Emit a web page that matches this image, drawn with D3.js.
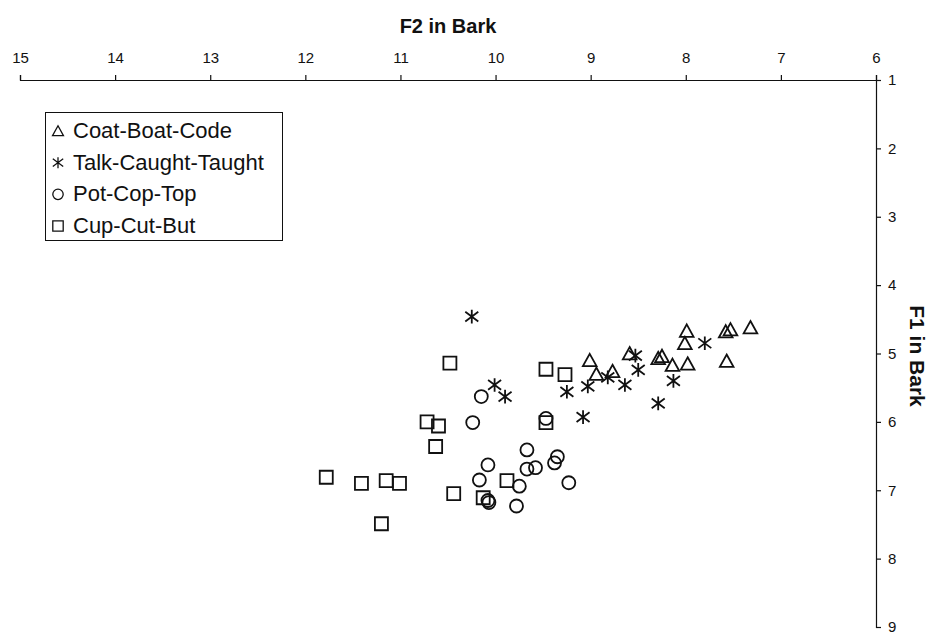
<!DOCTYPE html>
<html>
<head>
<meta charset="utf-8">
<script src="https://cdn.jsdelivr.net/npm/d3@7"></script>
<style>
  html, body { margin: 0; padding: 0; background: #fff; }
  svg { display: block; font-family: Arial, "Liberation Sans", sans-serif; }
</style>
</head>
<body>
<svg id="chart" width="930" height="641"></svg>
<script>
// Vowel formants in Bark: F2 on the (reversed) horizontal axis, F1 on the vertical axis.
const xTickValues = [15, 14, 13, 12, 11, 10, 9, 8, 7, 6];
const yTickValues = [1, 2, 3, 4, 5, 6, 7, 8, 9];

const seriesNames = ["Coat-Boat-Code", "Talk-Caught-Taught", "Pot-Cop-Top", "Cup-Cut-But"];

// Coat-Boat-Code
const coatF2 = [9.01, 8.94, 8.77, 8.59, 8.29, 8.25, 8.14, 7.98, 7.99, 8.01, 7.58, 7.53, 7.32, 7.57];
const coatF1 = [5.10, 5.30, 5.26, 5.00, 5.07, 5.04, 5.17, 5.15, 4.67, 4.85, 4.68, 4.65, 4.62, 5.11];

// Talk-Caught-Taught
const talkF2 = [10.25, 10.01, 9.90, 9.25, 9.03, 8.82, 8.64, 8.53, 8.50, 8.13, 8.29, 7.80, 9.08];
const talkF1 = [4.46, 5.46, 5.63, 5.56, 5.48, 5.35, 5.46, 5.03, 5.24, 5.40, 5.73, 4.85, 5.93];

// Pot-Cop-Top
const potF2 = [10.15, 10.24, 9.47, 9.67, 9.35, 9.38, 10.08, 9.67, 9.58, 10.17, 9.75, 9.23, 10.07, 10.08, 9.78];
const potF1 = [5.63, 6.01, 5.95, 6.41, 6.51, 6.60, 6.63, 6.69, 6.67, 6.85, 6.94, 6.89, 7.18, 7.15, 7.23];

// Cup-Cut-But
const cupF2 = [10.48, 9.47, 9.27, 10.72, 10.60, 10.63, 9.47, 11.78, 11.41, 11.15, 11.01, 11.20, 10.44, 9.88, 10.13];
const cupF1 = [5.14, 5.23, 5.31, 6.00, 6.06, 6.36, 6.01, 6.81, 6.90, 6.86, 6.90, 7.49, 7.05, 6.86, 7.11];

const svg = d3.select("#chart");
const ink = "#111";

const x = d3.scaleLinear().domain([15, 6]).range([20, 876]);
const y = d3.scaleLinear().domain([1, 9]).range([80, 627]);

// Marker outlines, centred on (0,0), scaled by half-size r
const shapes = {
  triangle: r => `M0,${-r}L${r * 1.05},${r * 0.9}L${-r * 1.05},${r * 0.9}Z`,
  star: r => `M0,${-r * 1.05}L0,${r * 1.05}M${-r},${-r * 0.75}L${r},${r * 0.75}M${-r},${r * 0.75}L${r},${-r * 0.75}`,
  circle: r => `M${r},0A${r},${r} 0 1,1 ${-r},0A${r},${r} 0 1,1 ${r},0Z`,
  square: r => `M${-r},${-r}H${r}V${r}H${-r}Z`
};

const series = [
  { name: seriesNames[0], shape: "triangle", f2: coatF2, f1: coatF1 },
  { name: seriesNames[1], shape: "star", f2: talkF2, f1: talkF1 },
  { name: seriesNames[2], shape: "circle", f2: potF2, f1: potF1 },
  { name: seriesNames[3], shape: "square", f2: cupF2, f1: cupF1 }
];

// Axes: F2 along the top, F1 on the right
const xAxis = d3.axisTop(x).tickValues(xTickValues).tickSize(5).tickPadding(12).tickFormat(d3.format("d"));
const gx = svg.append("g").attr("transform", `translate(0,${y(1)})`).call(xAxis);
const yAxis = d3.axisRight(y).tickValues(yTickValues).tickSize(5).tickPadding(7).tickFormat(d3.format("d"));
const gy = svg.append("g").attr("transform", `translate(${x(6)},0)`).call(yAxis);

[gx, gy].forEach(g => {
  g.select(".domain").attr("stroke", ink).attr("stroke-width", 1.2);
  g.selectAll(".tick line").attr("stroke", ink).attr("stroke-width", 1.2);
  g.selectAll(".tick text").attr("fill", ink).style("font-size", "15px")
    .style("font-family", "Arial, 'Liberation Sans', sans-serif");
});

svg.append("text")
  .attr("x", 448).attr("y", 33)
  .attr("text-anchor", "middle")
  .style("font-size", "20px").style("font-weight", "bold").attr("fill", ink)
  .text("F2 in Bark");

svg.append("text")
  .attr("transform", `translate(910,356) rotate(90)`)
  .attr("text-anchor", "middle")
  .style("font-size", "21px").style("font-weight", "bold").attr("fill", ink)
  .text("F1 in Bark");

// Data markers
const plot = svg.append("g");
series.forEach(s => {
  plot.append("g").selectAll("path")
    .data(s.f2.map((v, i) => ({ f2: v, f1: s.f1[i] })))
    .join("path")
    .attr("transform", d => `translate(${x(d.f2)},${y(d.f1)})`)
    .attr("d", shapes[s.shape](6.5))
    .attr("fill", "none")
    .attr("stroke", ink)
    .attr("stroke-width", 1.8);
});

// Legend
const legend = svg.append("g");
legend.append("rect")
  .attr("x", 45.5).attr("y", 112.5).attr("width", 237).attr("height", 128)
  .attr("fill", "#fff").attr("stroke", ink).attr("stroke-width", 1);

const rowY = d3.scalePoint().domain(seriesNames).range([130, 225]);
series.forEach(s => {
  const cy = rowY(s.name);
  legend.append("path")
    .attr("transform", `translate(58,${cy + 1})`)
    .attr("d", shapes[s.shape](5.2))
    .attr("fill", "none").attr("stroke", ink).attr("stroke-width", 1.3);
  legend.append("text")
    .attr("x", 73).attr("y", cy)
    .attr("dy", "0.36em")
    .style("font-size", "22px").attr("fill", ink)
    .text(s.name);
});
</script>
</body>
</html>
